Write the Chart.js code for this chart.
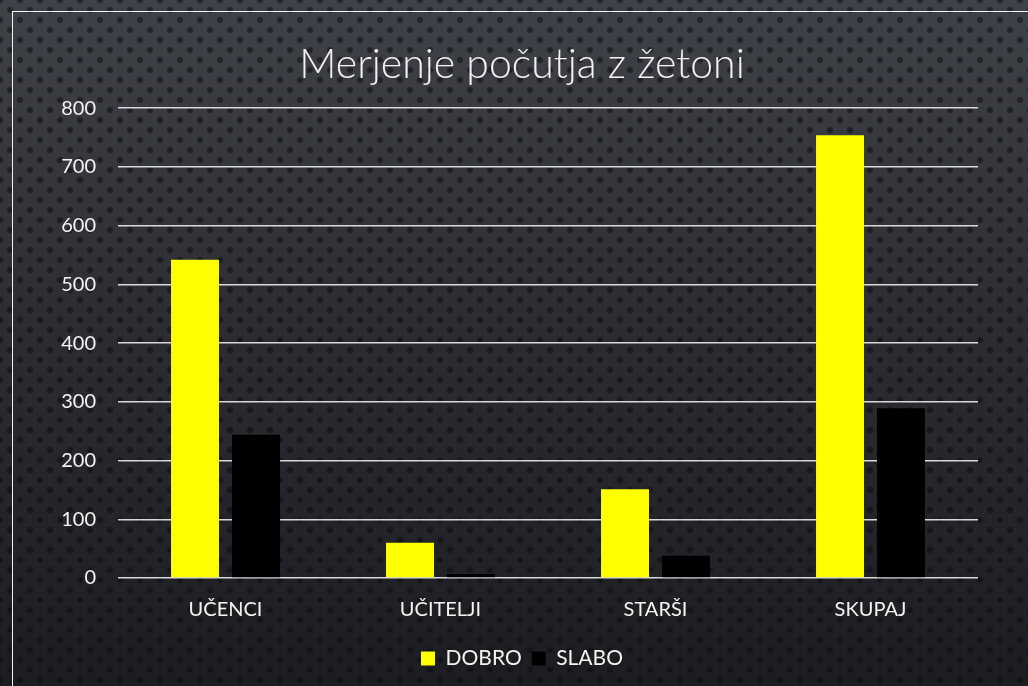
<!DOCTYPE html>
<html>
<head>
<meta charset="utf-8">
<script src="https://cdn.jsdelivr.net/npm/chart.js@4"></script>
<style>
  html, body { margin: 0; padding: 0; }
  body {
    width: 1028px; height: 686px; overflow: hidden;
    background-color: #2a2c30;
    background-image:
      radial-gradient(circle, rgba(10,12,15,0.6) 0, rgba(10,12,15,0.5) 2.5px, transparent 3.8px),
      radial-gradient(circle, rgba(10,12,15,0.6) 0, rgba(10,12,15,0.5) 2.5px, transparent 3.8px),
      linear-gradient(to bottom, #3f4248 0%, #2c2e33 45%, #1c1d21 100%);
    background-size: 20px 20px, 20px 20px, 100% 100%;
    background-position: 0 0, 10px 10px, 0 0;
  }
  #frame {
    position: absolute; left: 12px; top: 11px; width: 1040px; height: 700px;
    border-left: 1.5px solid #f2f2f2; border-top: 1.5px solid #f2f2f2;
    pointer-events: none;
  }
  #wrap { position: absolute; left: 0; top: 0; width: 1028px; height: 686px; }
</style>
</head>
<body>
<div id="frame"></div>
<div id="wrap"><canvas id="chart" width="1028" height="686"></canvas></div>
<script>
const categories = ["UČENCI", "UČITELJI", "STARŠI", "SKUPAJ"];
const dobro = [542, 60, 151, 754];
const slabo = [244, 7, 38, 289];
const yTicks = [0, 100, 200, 300, 400, 500, 600, 700, 800];

const fontFamily = "Lato, 'Open Sans', sans-serif";

// title and legend sit a bit right of the canvas centre on the slide
const shiftBoxes = {
  id: "shiftBoxes",
  afterLayout(chart) {
    [chart.titleBlock, chart.legend].forEach((box) => {
      if (box) { box.left += 33; box.right += 33; }
    });
  },
};

const ctx = document.getElementById("chart").getContext("2d");
const chart = new Chart(ctx, {
  type: "bar",
  data: {
    labels: categories,
    datasets: [
      {
        label: "DOBRO",
        data: dobro,
        backgroundColor: "#ffff00",
        borderWidth: 0,
        categoryPercentage: 0.567,
        barPercentage: 0.787,
      },
      {
        label: "SLABO",
        data: slabo,
        backgroundColor: "#000000",
        borderWidth: 0,
        categoryPercentage: 0.567,
        barPercentage: 0.787,
      },
    ],
  },
  plugins: [shiftBoxes],
  options: {
    responsive: false,
    animation: false,
    layout: { padding: { left: 0, right: 50, top: 0, bottom: 7 } },
    plugins: {
      title: {
        display: true,
        text: "Merjenje počutja z žetoni",
        color: "#f2f2f2",
        font: { family: fontFamily, size: 41, weight: "300" },
        padding: { top: 40, bottom: 19 },
      },
      legend: {
        position: "bottom",
        labels: {
          color: "#f2f2f2",
          font: { family: fontFamily, size: 21 },
          boxWidth: 14,
          boxHeight: 14,
          padding: 10,
        },
      },
      tooltip: { enabled: false },
    },
    scales: {
      x: {
        grid: { display: false, drawTicks: false },
        border: { display: false },
        ticks: { color: "#f2f2f2", font: { family: fontFamily, size: 20 }, padding: 20 },
        afterFit: (scale) => { scale.height = 60; },
      },
      y: {
        min: 0,
        max: 800,
        afterBuildTicks: (scale) => { scale.ticks = yTicks.map((v) => ({ value: v })); },
        grid: { color: "#d9d9d9", lineWidth: 1.5, drawTicks: false },
        border: { display: false },
        ticks: { color: "#f2f2f2", font: { family: fontFamily, size: 20 }, padding: 22 },
        afterFit: (scale) => { scale.width = 118; },
      },
    },
  },
});
</script>
</body>
</html>
